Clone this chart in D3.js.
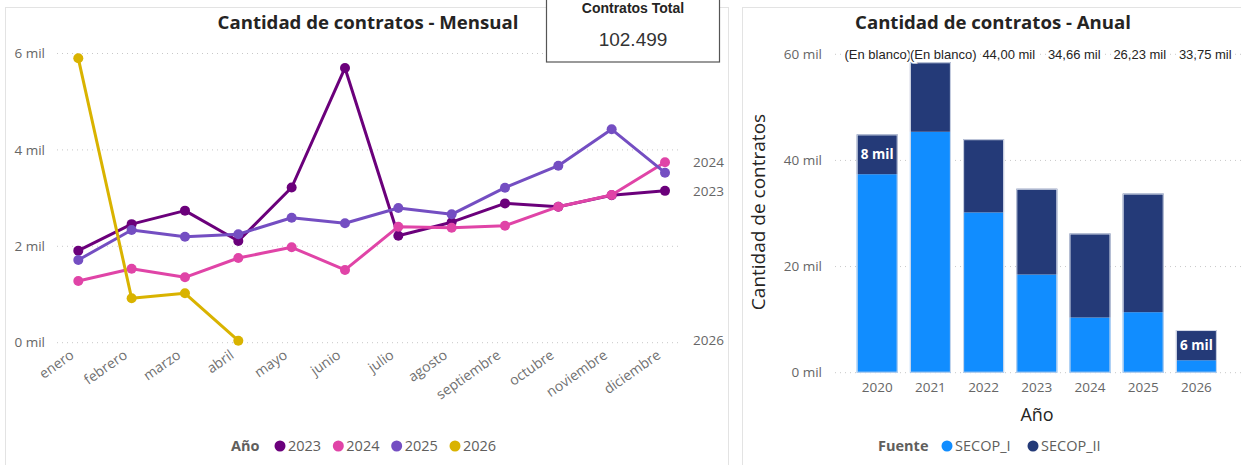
<!DOCTYPE html>
<html><head><meta charset="utf-8">
<script src="https://cdn.jsdelivr.net/npm/d3@7"></script>
<style>
body{margin:0;background:#fff;}
svg{display:block;font-family:"Open Sans","Noto Sans",sans-serif;}
</style></head>
<body><svg id="c" width="1241" height="465"></svg>
<script>
// ---------- data ----------
const months = ["enero","febrero","marzo","abril","mayo","junio","julio","agosto","septiembre","octubre","noviembre","diciembre"];
const y2023 = [1910,2460,2740,2110,3220,5700,2220,2500,2890,2820,3060,3150];
const y2024 = [1280,1535,1357,1757,1980,1510,2407,2386,2427,2822,3064,3745];
const y2025 = [1716,2338,2199,2249,2593,2477,2795,2664,3216,3672,4427,3527];
const y2026 = [5900,921,1025,41];
const lineYears = ["2023","2024","2025","2026"];
const lineTicks = [0,2000,4000,6000];
const endLabelYears = ["2024","2023","2026"];

const barYears = ["2020","2021","2022","2023","2024","2025","2026"];
const secopI  = [37400,45400,30200,18500,10400,11400,2340];
const secopII = [7500,13100,13800,16160,15830,22350,5700];
const totalLabels = ["(En blanco)","(En blanco)","44,00 mil","34,66 mil","26,23 mil","33,75 mil"];
const barTicks = [0,20000,40000,60000];
const kpiValue = "102.499";

const lineColors = {"2023":"#6B007B","2024":"#E044A7","2025":"#744EC2","2026":"#D9B300"};
const srcColors = {"SECOP_I":"#118DFF","SECOP_II":"#243A78"};

const svg = d3.select("#c");
const fmtMil = v => d3.format("d")(v/1000) + " mil";

// ---------- panels ----------
svg.append("rect").attr("x",5.5).attr("y",7.5).attr("width",723).attr("height",470)
  .attr("fill","none").attr("stroke","#e3e3e3");
svg.append("rect").attr("x",742.5).attr("y",7.5).attr("width",510).attr("height",470)
  .attr("fill","none").attr("stroke","#e3e3e3");

// ---------- line chart ----------
const x = d3.scalePoint().domain(months).range([78.3,665]);
const y = d3.scaleLinear().domain([0,6000]).range([342.7,53.5]);

const gL = svg.append("g");
gL.selectAll("line.grid").data(lineTicks).join("line")
  .attr("x1",57).attr("x2",682).attr("y1",d=>y(d)).attr("y2",d=>y(d))
  .attr("stroke","#c8c8c8").attr("stroke-dasharray","1,4").attr("stroke-width",1);
gL.selectAll("text.yt").data(lineTicks).join("text")
  .attr("x",45).attr("y",d=>y(d)).attr("dy","0.35em").attr("text-anchor","end")
  .attr("fill","#666").attr("font-size",13.5).text(fmtMil);

gL.selectAll("text.xt").data(months).join("text")
  .attr("transform",d=>`translate(${x(d)-9},${349}) rotate(-35)`)
  .attr("text-anchor","end").attr("dy","0.71em")
  .attr("fill","#707070").attr("font-size",14).text(d=>d);

const series = [y2023,y2024,y2025,y2026];
const line = d3.line().x((d,i)=>x(months[i])).y(d=>y(d));
series.forEach((s,k)=>{
  const col = lineColors[lineYears[k]];
  gL.append("path").datum(s).attr("d",line).attr("fill","none")
    .attr("stroke",col).attr("stroke-width",3).attr("stroke-linejoin","round");
  gL.selectAll(null).data(s).join("circle")
    .attr("cx",(d,i)=>x(months[i])).attr("cy",d=>y(d)).attr("r",5).attr("fill",col);
});
// end labels
const lastVal = {"2023":y2023[11],"2024":y2024[11],"2025":y2025[11],"2026":y2026[y2026.length-1]};
gL.selectAll("text.el").data(endLabelYears).join("text")
  .attr("x",693).attr("y",d=>y(lastVal[d])).attr("dy","0.35em")
  .attr("fill","#666").attr("font-size",13.5).text(d=>d);

gL.append("text").attr("x",368).attr("y",29).attr("text-anchor","middle")
  .attr("font-weight","bold").attr("font-size",18.6).attr("fill","#252423")
  .text("Cantidad de contratos - Mensual");

// legend
const lg = gL.append("g");
lg.append("text").attr("x",231).attr("y",451).attr("font-weight","bold").attr("font-size",14.5)
  .attr("fill","#605E5C").text("Año");
const lxPos = d3.scalePoint().domain(lineYears).range([280,455]);
lineYears.forEach(yr=>{
  lg.append("circle").attr("cx",lxPos(yr)).attr("cy",446).attr("r",5.5).attr("fill",lineColors[yr]);
  lg.append("text").attr("x",lxPos(yr)+8).attr("y",451).attr("font-size",14.5)
    .attr("fill","#605E5C").text(yr);
});

// ---------- KPI card ----------
const kpi = svg.append("g");
kpi.append("rect").attr("x",546.5).attr("y",-2).attr("width",173).attr("height",64)
  .attr("fill","#fff").attr("stroke","#555").attr("stroke-width",1.2);
kpi.append("text").attr("x",633).attr("y",13).attr("text-anchor","middle")
  .attr("font-family","'Liberation Sans',Arial,sans-serif").attr("font-weight","bold")
  .attr("font-size",14).attr("fill","#252423").text("Contratos Total");
kpi.append("text").attr("x",633).attr("y",46).attr("text-anchor","middle")
  .attr("font-family","'Liberation Sans',Arial,sans-serif")
  .attr("font-size",19).attr("fill","#333").text(kpiValue);

// ---------- bar chart ----------
const xb = d3.scaleBand().domain(barYears).range([850.6,1223]).paddingInner(0.23).paddingOuter(0.115);
const yb = d3.scaleLinear().domain([0,60000]).range([372.7,54.3]);
const gR = svg.append("g");
gR.selectAll("line.grid").data(barTicks).join("line")
  .attr("x1",835).attr("x2",1241).attr("y1",d=>yb(d)).attr("y2",d=>yb(d))
  .attr("stroke","#c8c8c8").attr("stroke-dasharray","1,4");
gR.selectAll("text.yt").data(barTicks).join("text")
  .attr("x",822).attr("y",d=>yb(d)).attr("dy","0.35em").attr("text-anchor","end")
  .attr("fill","#666").attr("font-size",13.5).text(fmtMil);

const stackData = barYears.map((yr,i)=>({year:yr,SECOP_I:secopI[i],SECOP_II:secopII[i]}));
const stack = d3.stack().keys(["SECOP_I","SECOP_II"])(stackData);
stack.forEach(layer=>{
  gR.selectAll(null).data(layer).join("rect")
    .attr("x",d=>xb(d.data.year)).attr("width",xb.bandwidth())
    .attr("y",d=>yb(d[1])).attr("height",d=>yb(d[0])-yb(d[1]))
    .attr("fill",srcColors[layer.key]);
});
gR.selectAll("rect.ol").data(stackData).join("rect")
  .attr("x",d=>xb(d.year)+0.5).attr("width",xb.bandwidth()-1)
  .attr("y",d=>yb(d.SECOP_I+d.SECOP_II)+0.5).attr("height",d=>yb(0)-yb(d.SECOP_I+d.SECOP_II)-1)
  .attr("fill","none").attr("stroke","#d6dcea").attr("stroke-width",1);

const insideIdx = [0,6];
gR.selectAll("text.in").data(insideIdx).join("text")
  .attr("x",i=>xb(barYears[i])+xb.bandwidth()/2)
  .attr("y",i=>(yb(secopI[i])+yb(secopI[i]+secopII[i]))/2).attr("dy","0.35em")
  .attr("text-anchor","middle").attr("fill","#fff").attr("font-weight","bold").attr("font-size",13.5)
  .text(i=>Math.round(secopII[i]/1000)+" mil");

const xl = d3.scaleBand().domain(totalLabels.map((d,i)=>i)).range([845,1238]);
gR.selectAll("text.tl").data(totalLabels).join("text")
  .attr("x",(d,i)=>xl(i)+xl.bandwidth()/2).attr("y",yb(60000)).attr("dy","0.35em")
  .attr("text-anchor","middle").attr("font-family","'Liberation Sans',Arial,sans-serif")
  .attr("font-size",13).attr("fill","#252423")
  .attr("stroke","#fff").attr("stroke-width",3).attr("paint-order","stroke")
  .text(d=>d);

gR.selectAll("text.xt").data(barYears).join("text")
  .attr("x",d=>xb(d)+xb.bandwidth()/2).attr("y",392).attr("text-anchor","middle")
  .attr("fill","#666").attr("font-size",13.5).text(d=>d);

gR.append("text").attr("x",1037).attr("y",421).attr("text-anchor","middle")
  .attr("font-size",18).attr("fill","#252423").text("Año");
gR.append("text").attr("transform","translate(765,212) rotate(-90)").attr("text-anchor","middle")
  .attr("font-size",19).attr("fill","#252423").text("Cantidad de contratos");
gR.append("text").attr("x",993).attr("y",29).attr("text-anchor","middle")
  .attr("font-weight","bold").attr("font-size",18.6).attr("fill","#252423")
  .text("Cantidad de contratos - Anual");

const lr = gR.append("g");
lr.append("text").attr("x",878).attr("y",451).attr("font-weight","bold").attr("font-size",14.5)
  .attr("fill","#605E5C").text("Fuente");
const srcKeys = ["SECOP_I","SECOP_II"];
const lrPos = d3.scalePoint().domain(srcKeys).range([947,1033]);
srcKeys.forEach(k=>{
  lr.append("circle").attr("cx",lrPos(k)).attr("cy",446).attr("r",5.5).attr("fill",srcColors[k]);
  lr.append("text").attr("x",lrPos(k)+8).attr("y",451).attr("font-size",14.5)
    .attr("fill","#605E5C").text(k);
});
</script></body></html>
